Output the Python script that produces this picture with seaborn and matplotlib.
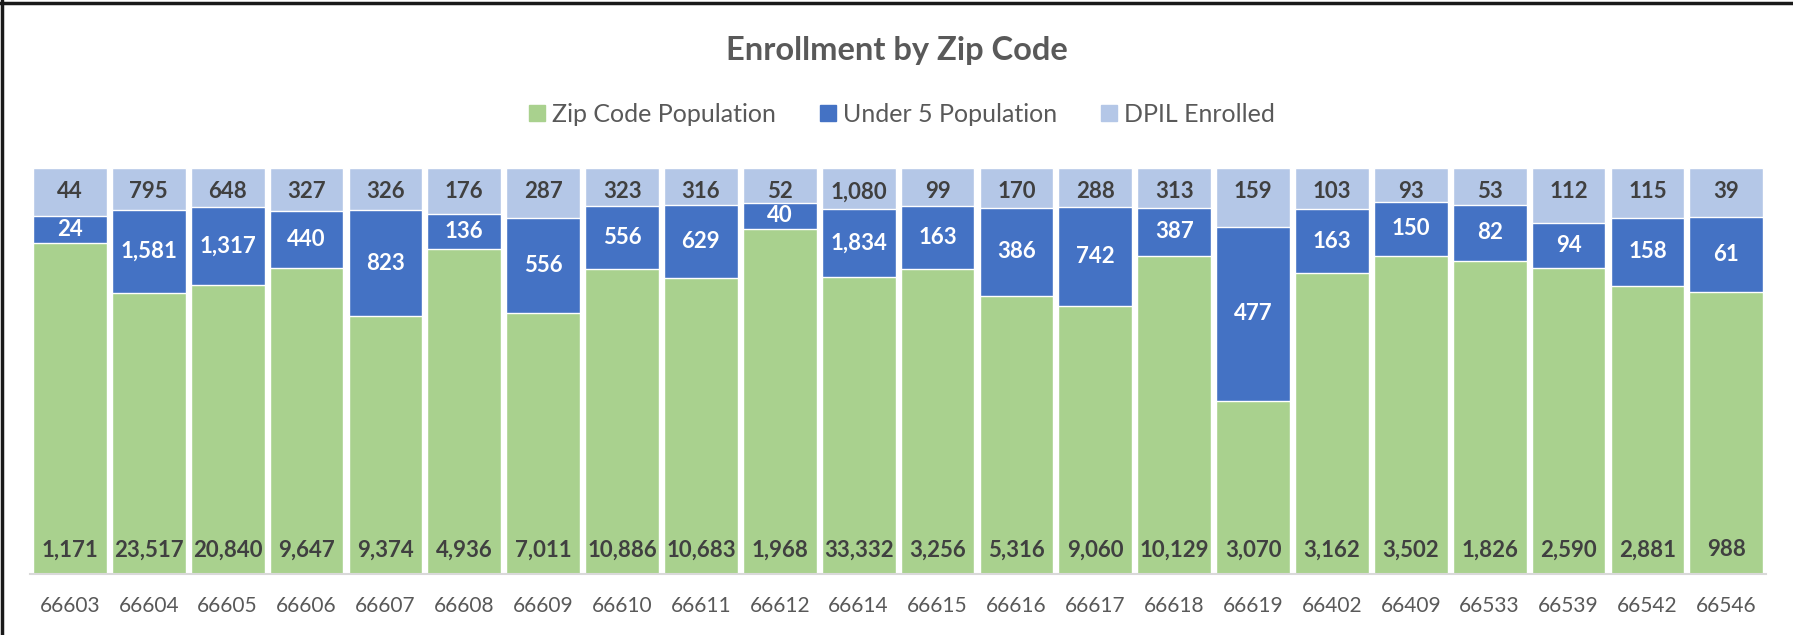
import matplotlib
matplotlib.use("Agg")
import matplotlib.pyplot as plt
import seaborn as sns
import pandas as pd
from matplotlib.lines import Line2D
from matplotlib.patches import Patch

zips = ["66603", "66604", "66605", "66606", "66607", "66608", "66609", "66610", "66611",
        "66612", "66614", "66615", "66616", "66617", "66618", "66619", "66402", "66409",
        "66533", "66539", "66542", "66546"]

# values shown in the labels
zip_pop = [1171, 23517, 20840, 9647, 9374, 4936, 7011, 10886, 10683, 1968, 33332, 3256,
           5316, 9060, 10129, 3070, 3162, 3502, 1826, 2590, 2881, 988]
under5 = [24, 1581, 1317, 440, 823, 136, 556, 556, 629, 40, 1834, 163, 386, 742, 387,
          477, 163, 150, 82, 94, 158, 61]
enrolled = [44, 795, 648, 327, 326, 176, 287, 323, 316, 52, 1080, 99, 170, 288, 313,
            159, 103, 93, 53, 112, 115, 39]

# segment shares (% of bar height)
green_pct = [81.7, 69.3, 71.3, 75.5, 63.6, 80.2, 64.3, 75.1, 73.0, 85.1, 73.2, 75.2,
             68.5, 66.0, 78.5, 42.7, 74.1, 78.4, 77.1, 75.5, 71.1, 69.4]
blue_pct = [6.6, 20.4, 19.2, 14.0, 26.0, 8.5, 23.5, 15.7, 18.0, 6.4, 16.8, 15.4,
            21.8, 24.5, 11.8, 42.9, 15.9, 13.3, 13.9, 11.1, 16.7, 18.7]
light_pct = [11.7, 10.3, 9.5, 10.5, 10.4, 11.3, 12.2, 9.2, 9.0, 8.5, 10.0, 9.4,
             9.7, 9.5, 9.7, 14.4, 10.0, 8.3, 9.0, 13.4, 12.2, 11.9]

GREEN, BLUE, LIGHT = "#A9D18E", "#4472C4", "#B4C7E7"
DARK, GREY = "#404040", "#595959"

df = pd.DataFrame({"zip": zips, "green": green_pct, "blue": blue_pct, "light": light_pct})
df["gb"] = df["green"] + df["blue"]
df["total"] = df["gb"] + df["light"]

sns.set_theme(style="white")
plt.rcParams["font.family"] = ["Lato", "DejaVu Sans"]

fig = plt.figure(figsize=(17.93, 6.35), dpi=100)
ax = fig.add_axes([0.017, 0.0961, 0.9678, 0.6389])

bw = 0.934
sns.barplot(data=df, x="zip", y="total", order=zips, color=LIGHT, width=bw, saturation=1, ax=ax)
sns.barplot(data=df, x="zip", y="gb", order=zips, color=BLUE, width=bw, saturation=1, ax=ax)
sns.barplot(data=df, x="zip", y="green", order=zips, color=GREEN, width=bw, saturation=1, ax=ax)

ax.set_ylim(0, 100)
ax.set_xlim(-0.5, len(zips) - 0.5)
ax.set_xlabel("")
ax.set_ylabel("")
ax.set_yticks([])
for s in ["top", "left", "right"]:
    ax.spines[s].set_visible(False)
ax.spines["bottom"].set_color("#D9D9D9")
ax.spines["bottom"].set_linewidth(1.5)
ax.tick_params(axis="x", length=0, pad=16, labelsize=15, labelcolor=GREY)

lab = dict(ha="center", va="center", fontsize=16, fontweight="bold")
for i in range(len(zips)):
    ax.annotate(f"{enrolled[i]:,}", xy=(i, 100), xytext=(0, -23.5), textcoords="offset pixels",
                color=DARK, **lab)
    ax.annotate(f"{zip_pop[i]:,}", xy=(i, 0), xytext=(0, 24), textcoords="offset pixels",
                color=DARK, **lab)
    ax.text(i, green_pct[i] + blue_pct[i] / 2, f"{under5[i]:,}", color="white", **lab)

fig.text(0.5, 0.92, "Enrollment by Zip Code", ha="center", va="center",
         fontsize=23.5, fontweight="bold", color=GREY)

handles = [Patch(color=GREEN, label="Zip Code Population"),
           Patch(color=BLUE, label="Under 5 Population"),
           Patch(color=LIGHT, label="DPIL Enrolled")]
leg = fig.legend(handles=handles, loc="center", bbox_to_anchor=(0.503, 0.82), ncol=3,
                 frameon=False, fontsize=18, handlelength=0.64, handleheight=0.6,
                 handletextpad=0.28, columnspacing=1.75)
for t in leg.get_texts():
    t.set_color(GREY)

# chart frame (top and left edges visible in the reference)
fig.add_artist(Line2D([0, 1], [0.995, 0.995], color="#1a1a1a", lw=2.5, transform=fig.transFigure))
fig.add_artist(Line2D([0.001, 0.001], [0, 1], color="#1a1a1a", lw=2.5, transform=fig.transFigure))

fig.savefig("out.png", dpi=100)
